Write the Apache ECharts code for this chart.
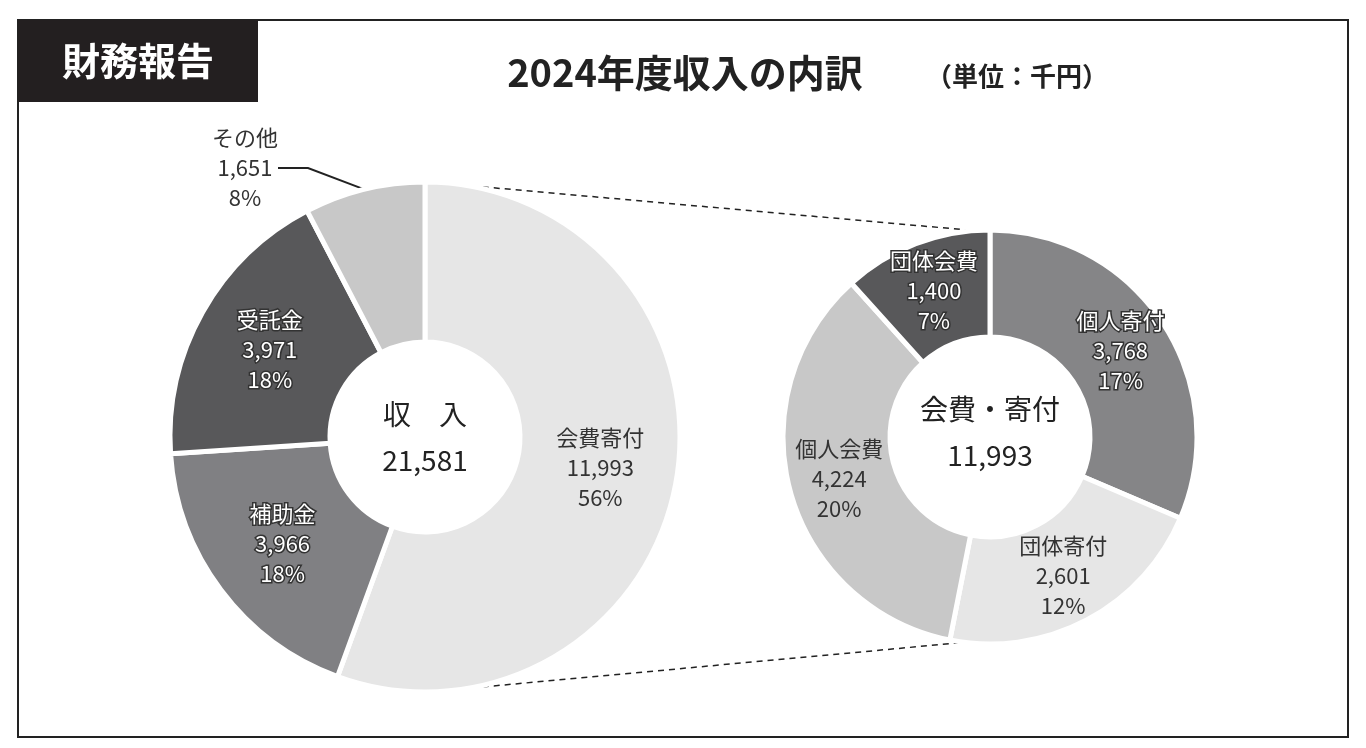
<!DOCTYPE html>
<html><head><meta charset="utf-8">
<script src="https://cdn.jsdelivr.net/npm/echarts@6/dist/echarts.min.js"></script>
<style>html,body{margin:0;padding:0;background:#fff}#c{width:1366px;height:748px}</style>
</head><body><div id="c"></div>
<script>
const incomeNames=['会費寄付','補助金','受託金','その他'];
const incomeValues=[11993,3966,3971,1651];
const incomePct=[56,18,18,8];
const incomeColors=['#e6e6e6','#808083','#58585a','#c8c8c8'];
const duesNames=['個人寄付','団体寄付','個人会費','団体会費'];
const duesValues=[3768,2601,4224,1400];
const duesPct=[17,12,20,7];
const duesColors=['#858587','#e6e6e6','#c8c8c8','#58585a'];
const F='"Noto Sans CJK JP","Noto Sans",sans-serif';
const fmt=n=>n.toLocaleString('en-US');
function mk(names,vals,pct,cols,darkIdx){
  return names.map((n,i)=>({name:n,value:vals[i],pct:pct[i],itemStyle:{color:cols[i]},
    label:darkIdx.includes(i)?{color:'#fff',textBorderColor:'#333',textBorderWidth:3}:{color:'#333'}}));
}
const chart=echarts.init(document.getElementById('c'));
const lab={show:true,position:'inside',fontFamily:F,fontSize:22,lineHeight:30,
  formatter:p=>p.name+'\n'+fmt(p.value)+'\n'+p.data.pct+'%'};
chart.setOption({
  animation:false,
  graphic:[
    {type:'rect',shape:{x:18,y:20,width:1330,height:717},style:{fill:'none',stroke:'#222',lineWidth:2}},
    {type:'rect',shape:{x:18,y:20,width:240,height:82},style:{fill:'#231f20'}},
    {type:'text',x:138,y:61,style:{text:'財務報告',fill:'#fff',font:'bold 38px '+F,align:'center',verticalAlign:'middle'}},
    {type:'text',x:685,y:73,style:{text:'2024年度収入の内訳',fill:'#222',font:'bold 38px '+F,align:'center',verticalAlign:'middle'}},
    {type:'text',x:1017,y:76,style:{text:'（単位：千円）',fill:'#222',font:'bold 26px '+F,align:'center',verticalAlign:'middle'}},
    {type:'line',shape:{x1:428,y1:182,x2:990,y2:232},style:{stroke:'#222',lineWidth:1.5,lineDash:[6,5]}},
    {type:'line',shape:{x1:428,y1:692,x2:968,y2:642},style:{stroke:'#222',lineWidth:1.5,lineDash:[6,5]}}
  ],
  series:[
    {type:'pie',center:[425,437],radius:[95,255],startAngle:90,clockwise:true,
     itemStyle:{borderColor:'#fff',borderWidth:5},
     label:lab,labelLine:{show:true,lineStyle:{color:'#222',width:2}},
     labelLayout:p=>p.dataIndex===3?{x:245,y:168,align:'center',verticalAlign:'middle'}:{},
     data:mk(incomeNames,incomeValues,incomePct,incomeColors,[1,2]).map((d,i)=>i===3?Object.assign(d,{label:{position:'outside',color:'#333'},labelLine:{show:true}}):Object.assign(d,{labelLine:{show:false}}))},
    {type:'pie',center:[990,437],radius:[100,207],startAngle:90,clockwise:true,
     itemStyle:{borderColor:'#fff',borderWidth:5},label:lab,labelLine:{show:false},
     data:mk(duesNames,duesValues,duesPct,duesColors,[0,3])}
  ]
});
chart.setOption({graphic:chart.getOption().graphic[0].elements.concat([
  {type:'text',x:425,y:437,style:{text:'収　入\n21,581',fill:'#222',font:'28px '+F,lineHeight:46,align:'center',verticalAlign:'middle'}},
  {type:'text',x:990,y:432,style:{text:'会費・寄付\n11,993',fill:'#222',font:'28px '+F,lineHeight:46,align:'center',verticalAlign:'middle'}}
])},{replaceMerge:['graphic']});
</script></body></html>
